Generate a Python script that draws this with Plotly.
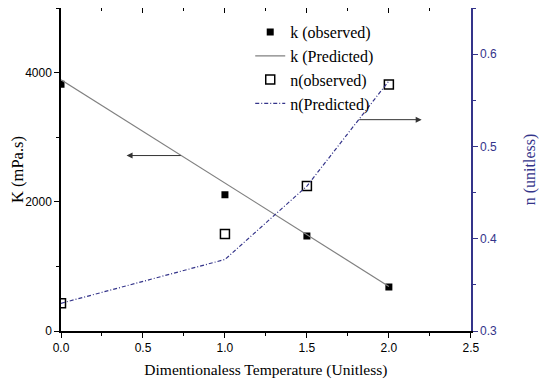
import plotly.graph_objects as go
from plotly.subplots import make_subplots

# Data
temp = [0.0, 1.0, 1.5, 2.0]
k_observed = [3820, 2110, 1470, 680]
k_predicted = [3890, 2290, 1490, 690]
n_observed = [0.330, 0.405, 0.457, 0.567]
n_predicted = [0.330, 0.3775, 0.457, 0.571]

NAVY = "#34348a"
SERIF = "Liberation Serif, Times New Roman, serif"
SANS = "Liberation Sans, Arial, sans-serif"

fig = make_subplots(specs=[[{"secondary_y": True}]])

fig.add_trace(go.Scatter(x=temp, y=k_observed, mode="markers", name="k (observed)",
                         marker=dict(symbol="square", size=7, color="black")), secondary_y=False)
fig.add_trace(go.Scatter(x=temp, y=k_predicted, mode="lines", name="k (Predicted)",
                         line=dict(color="#808080", width=1.2)), secondary_y=False)
fig.add_trace(go.Scatter(x=temp, y=n_observed, mode="markers", name="n(observed)",
                         marker=dict(symbol="square-open", size=9, color="black",
                                     line=dict(width=1.5))), secondary_y=True)
fig.add_trace(go.Scatter(x=temp, y=n_predicted, mode="lines", name="n(Predicted)",
                         line=dict(color=NAVY, width=1.2, dash="4px,2px,1px,2px")), secondary_y=True)

# invisible trace to create top axis
fig.add_trace(go.Scatter(x=[0], y=[0], mode="markers", marker=dict(opacity=0),
                         showlegend=False, hoverinfo="skip", xaxis="x3", yaxis="y"))

# page body has an 8px margin: size the figure so it fills the 550x382 window
fig.update_layout(
    width=542, height=374,
    margin=dict(l=53, r=53, t=0, b=51),
    paper_bgcolor="white", plot_bgcolor="white",
    font=dict(family=SANS, size=12, color="black"),
    showlegend=True,
    legend=dict(x=0.434, y=0.978, xanchor="left", yanchor="top",
                bgcolor="rgba(0,0,0,0)", borderwidth=0,
                font=dict(family=SERIF, size=16, color="black"),
                tracegroupgap=0, itemwidth=30),
    xaxis=dict(range=[0, 2.5], dtick=0.5, tickformat=".1f", showgrid=False, zeroline=False,
               showline=True, linecolor="black", linewidth=1.5,
               ticks="outside", ticklen=5, tickcolor="black",
               minor=dict(dtick=0.25, ticks="outside", ticklen=3, tickcolor="black"),
               tickfont=dict(family=SANS, size=12),
               title=dict(text="Dimentionaless Temperature (Unitless)",
                          font=dict(family=SERIF, size=15.5), standoff=10)),
    xaxis3=dict(range=[0, 2.5], dtick=0.5, overlaying="x", side="top", anchor="y",
                showgrid=False, zeroline=False, showline=True, linecolor="black", linewidth=1.5,
                ticks="inside", ticklen=5, tickcolor="black", showticklabels=False,
                minor=dict(dtick=0.25, ticks="inside", ticklen=3, tickcolor="black")),
    yaxis=dict(range=[0, 5000], tickvals=[0, 2000, 4000], showgrid=False, zeroline=False,
               showline=True, linecolor="black", linewidth=1.5,
               ticks="outside", ticklen=5, tickcolor="black",
               minor=dict(tickvals=[1000, 3000, 5000], ticks="outside", ticklen=3, tickcolor="black"),
               tickfont=dict(family=SANS, size=12),
               title=dict(text="K (mPa.s)", font=dict(family=SERIF, size=16.5), standoff=0)),
    yaxis2=dict(range=[0.3, 0.65], tickvals=[0.3, 0.4, 0.5, 0.6], tickformat=".1f",
                showgrid=False, zeroline=False,
                showline=True, linecolor=NAVY, linewidth=1.5,
                ticks="outside", ticklen=5, tickcolor=NAVY,
                minor=dict(tickvals=[0.35, 0.45, 0.55, 0.65], ticks="outside", ticklen=3, tickcolor=NAVY),
                tickfont=dict(family=SANS, size=12, color=NAVY),
                title=dict(text="n (unitless)", font=dict(family=SERIF, size=16, color=NAVY), standoff=28)),
)

# arrows
fig.add_annotation(x=0.40, y=2716, ax=0.74, ay=2716, xref="x", yref="y", axref="x", ayref="y",
                   showarrow=True, arrowhead=2, arrowsize=1.2, arrowwidth=1, arrowcolor="#333", text="")
fig.add_annotation(x=2.20, y=0.529, ax=1.81, ay=0.529, xref="x", yref="y2", axref="x", ayref="y2",
                   showarrow=True, arrowhead=2, arrowsize=1.2, arrowwidth=1, arrowcolor="#333", text="")

fig.write_html("out.html")
